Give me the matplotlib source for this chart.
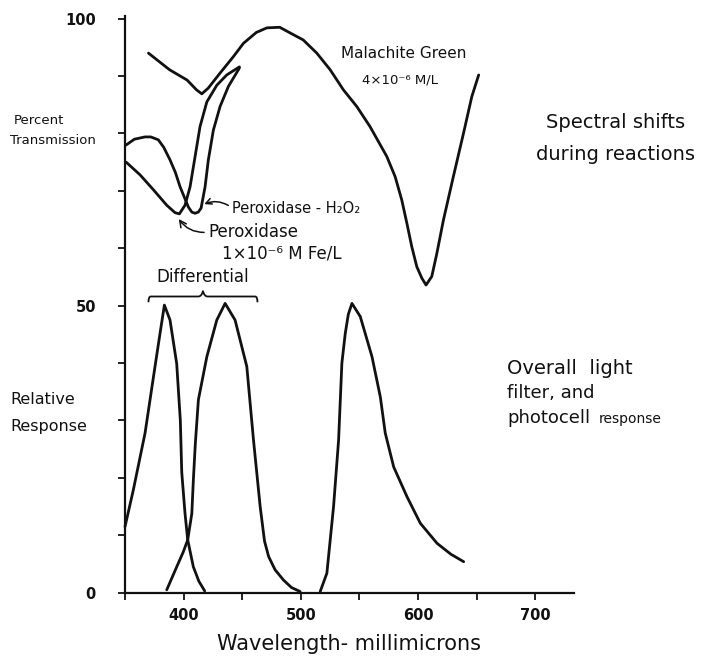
import matplotlib.pyplot as plt
from matplotlib.path import Path
from matplotlib.patches import PathPatch
import numpy as np

W, H = 706, 656

# Malachite green, 4e-6 M/L  (wavelength, % transmission)
mal_wl = [370, 388, 403, 411, 415.5, 421, 431, 442.5, 451, 462, 471, 482,
          491, 502, 513.6, 525, 536.3, 547.7, 559, 573.3, 580.4, 586.1,
          590.4, 594.6, 598.9, 603.2, 606.8, 611.7, 616.0, 621.6, 630.1,
          638.7, 645.8, 651.7]
mal_tr = [94.0, 91.1, 89.3, 87.6, 86.9, 87.9, 90.5, 93.4, 95.7, 97.6, 98.4,
          98.5, 97.5, 96.3, 94.0, 91.1, 87.6, 84.7, 81.2, 76.0, 72.5, 68.4,
          64.4, 60.3, 56.8, 54.8, 53.6, 55.1, 59.1, 64.9, 72.5, 80.0, 86.4,
          90.2]

# Peroxidase 1e-6 M Fe/L
per_wl = [351, 362.8, 374.2, 385.6, 392.7, 396.4, 401.2, 405.5, 409.8, 414,
          419.8, 428.3, 436.8, 447.6]
per_tr = [75.0, 72.8, 70.2, 67.5, 66.2, 66.0, 67.5, 70.7, 76.0, 81.2, 85.5,
          88.4, 90.2, 91.6]

# Peroxidase - H2O2
ph_wl = [351, 358, 367, 372, 378.4, 383, 388.4, 393, 397, 404, 407, 409.8,
         412.5, 414.9, 418.3, 421.1, 425.4, 431.1, 438.2, 447.6]
ph_tr = [78.0, 79.0, 79.4, 79.4, 78.9, 77.6, 75.4, 73.2, 70.7, 67.2, 66.3,
         66.1, 66.3, 67.0, 70.7, 75.4, 80.6, 84.7, 88.2, 91.4]

# relative response of the three light filter / photocell channels
resp1_wl = [350, 357.1, 367.1, 375.6, 379.9, 383.6, 388.4, 394.1, 397.2,
            398.4, 401.2, 403.5, 408.3, 413, 418]
resp1 = [11.5, 17.9, 27.8, 39.4, 45.2, 50.1, 47.5, 39.9, 30.0, 21.0, 13.8,
         9.2, 4.5, 2.0, 0.3]
resp2_wl = [385.6, 394.1, 399.7, 403.5, 407, 408.3, 410, 412.6, 419.8, 428.3,
            435.4, 443.9, 453.9, 459.6, 465.3, 469, 472.5, 478, 485.2, 492,
            499.4]
resp2 = [0.5, 4.5, 7.1, 9.2, 13.8, 19.6, 26.0, 33.6, 41.1, 47.5, 50.4, 47.5,
         39.4, 26.6, 15.0, 9.0, 6.3, 4.0, 2.2, 0.9, 0.2]
resp3_wl = [516.5, 522.2, 527.9, 532.2, 535.0, 537.9, 540.5, 543.6, 550.7,
            560.7, 567.8, 572.0, 579.2, 590.6, 601.9, 616.2, 628, 638.9]
resp3 = [0.2, 3.4, 15.0, 26.6, 40.0, 45.2, 48.5, 50.4, 48.1, 41.1, 34.1,
         27.8, 21.9, 16.7, 12.1, 8.6, 6.7, 5.4]

diff_range = (370, 463)

xticks = [400, 500, 600, 700]
yticks = [0, 50, 100]

ink = '#111111'

fig = plt.figure(figsize=(W / 100, H / 100), dpi=100, facecolor='white')
ax = fig.add_axes([125 / W, 63.3 / H, 449 / W, 576.9 / H])
ax.set_xlim(350, 733)
ax.set_ylim(0, 100.5)

for sx, sy in [(mal_wl, mal_tr), (per_wl, per_tr), (ph_wl, ph_tr),
               (resp1_wl, resp1), (resp2_wl, resp2), (resp3_wl, resp3)]:
    ax.plot(sx, sy, color=ink, lw=2.0, solid_joinstyle='round',
            solid_capstyle='round', clip_on=False)

for s in ['top', 'right']:
    ax.spines[s].set_visible(False)
for s in ['left', 'bottom']:
    ax.spines[s].set_linewidth(1.6)
    ax.spines[s].set_color(ink)

minor_x = np.arange(350, 701, 50)
ax.set_xticks(minor_x)
ax.set_xticklabels([str(v) if v in xticks else '' for v in minor_x])
ax.set_yticks(np.arange(0, 101, 10))
ax.set_yticklabels([str(v) if v in yticks else '' for v in range(0, 101, 10)])
ax.tick_params(axis='x', direction='out', length=5, width=1.3, pad=6,
               labelsize=10.5, colors=ink)
ax.tick_params(axis='y', direction='out', length=5, width=1.3, pad=16,
               labelsize=10.5, colors=ink)
for t in ax.get_xticklabels() + ax.get_yticklabels():
    t.set_fontweight('bold')

ax.set_xlabel('Wavelength- millimicrons', fontsize=15, color=ink, labelpad=8)

# y axis captions
fig.text(14 / W, 1 - 121 / H, 'Percent', fontsize=9.5, color=ink, va='center')
fig.text(10 / W, 1 - 141 / H, 'Transmission', fontsize=9.5, color=ink, va='center')
fig.text(10 / W, 1 - 400 / H, 'Relative', fontsize=11.5, color=ink, va='center')
fig.text(10 / W, 1 - 427 / H, 'Response', fontsize=11.5, color=ink, va='center')

# right side captions
fig.text(616 / W, 1 - 122 / H, 'Spectral shifts', fontsize=14, color=ink,
         ha='center', va='center')
fig.text(616 / W, 1 - 155 / H, 'during reactions', fontsize=14, color=ink,
         ha='center', va='center')
fig.text(507 / W, 1 - 368 / H, 'Overall  light', fontsize=14, color=ink, va='center')
fig.text(507 / W, 1 - 393 / H, 'filter, and', fontsize=13, color=ink, va='center')
fig.text(507 / W, 1 - 418 / H, 'photocell', fontsize=13, color=ink, va='center')
fig.text(599 / W, 1 - 419 / H, 'response', fontsize=10, color=ink, va='center')

# curve labels
fig.text(404 / W, 1 - 53 / H, 'Malachite Green', fontsize=11, color=ink,
         ha='center', va='center')
fig.text(400 / W, 1 - 80 / H, '4\u00d710\u207b\u2076 M/L', fontsize=9.5,
         color=ink, ha='center', va='center')

ax.annotate('Peroxidase - H\u2082O\u2082', xy=(416.5, 67.6),
            xytext=(441.5, 67.0), fontsize=10.5, color=ink, va='center',
            arrowprops=dict(arrowstyle='->', color=ink, lw=1.1, relpos=(0, 0.5),
                            connectionstyle='arc3,rad=0.3', shrinkA=1, shrinkB=1))
ax.annotate('Peroxidase', xy=(395.2, 65.3),
            xytext=(421, 62.8), fontsize=12, color=ink, va='center',
            arrowprops=dict(arrowstyle='->', color=ink, lw=1.1, relpos=(0, 0.5),
                            connectionstyle='arc3,rad=-0.3', shrinkA=1, shrinkB=1))
ax.text(433, 59.1, '1\u00d710\u207b\u2076 M Fe/L', fontsize=12, color=ink,
        va='center')

# "Differential" brace spanning the two left channels
x0, x1 = diff_range
xm = (x0 + x1) / 2
yb = 51.6
verts = [(x0, yb - 1.0), (x0, yb), (x0 + 2, yb), (x0 + 6, yb),
         (xm - 4, yb), (xm - 1, yb), (xm, yb + 1.0),
         (xm + 1, yb), (xm + 4, yb), (x1 - 6, yb),
         (x1 - 2, yb), (x1, yb), (x1, yb - 1.0)]
codes = [Path.MOVETO, Path.CURVE3, Path.CURVE3, Path.LINETO,
         Path.LINETO, Path.CURVE3, Path.CURVE3,
         Path.CURVE3, Path.CURVE3, Path.LINETO,
         Path.LINETO, Path.CURVE3, Path.CURVE3]
ax.add_patch(PathPatch(Path(verts, codes), fill=False, ec=ink, lw=1.3,
                       clip_on=False))
ax.text(xm, 55.0, 'Differential', fontsize=12, color=ink, ha='center',
        va='center')

fig.savefig('out.png', dpi=100, facecolor='white')
